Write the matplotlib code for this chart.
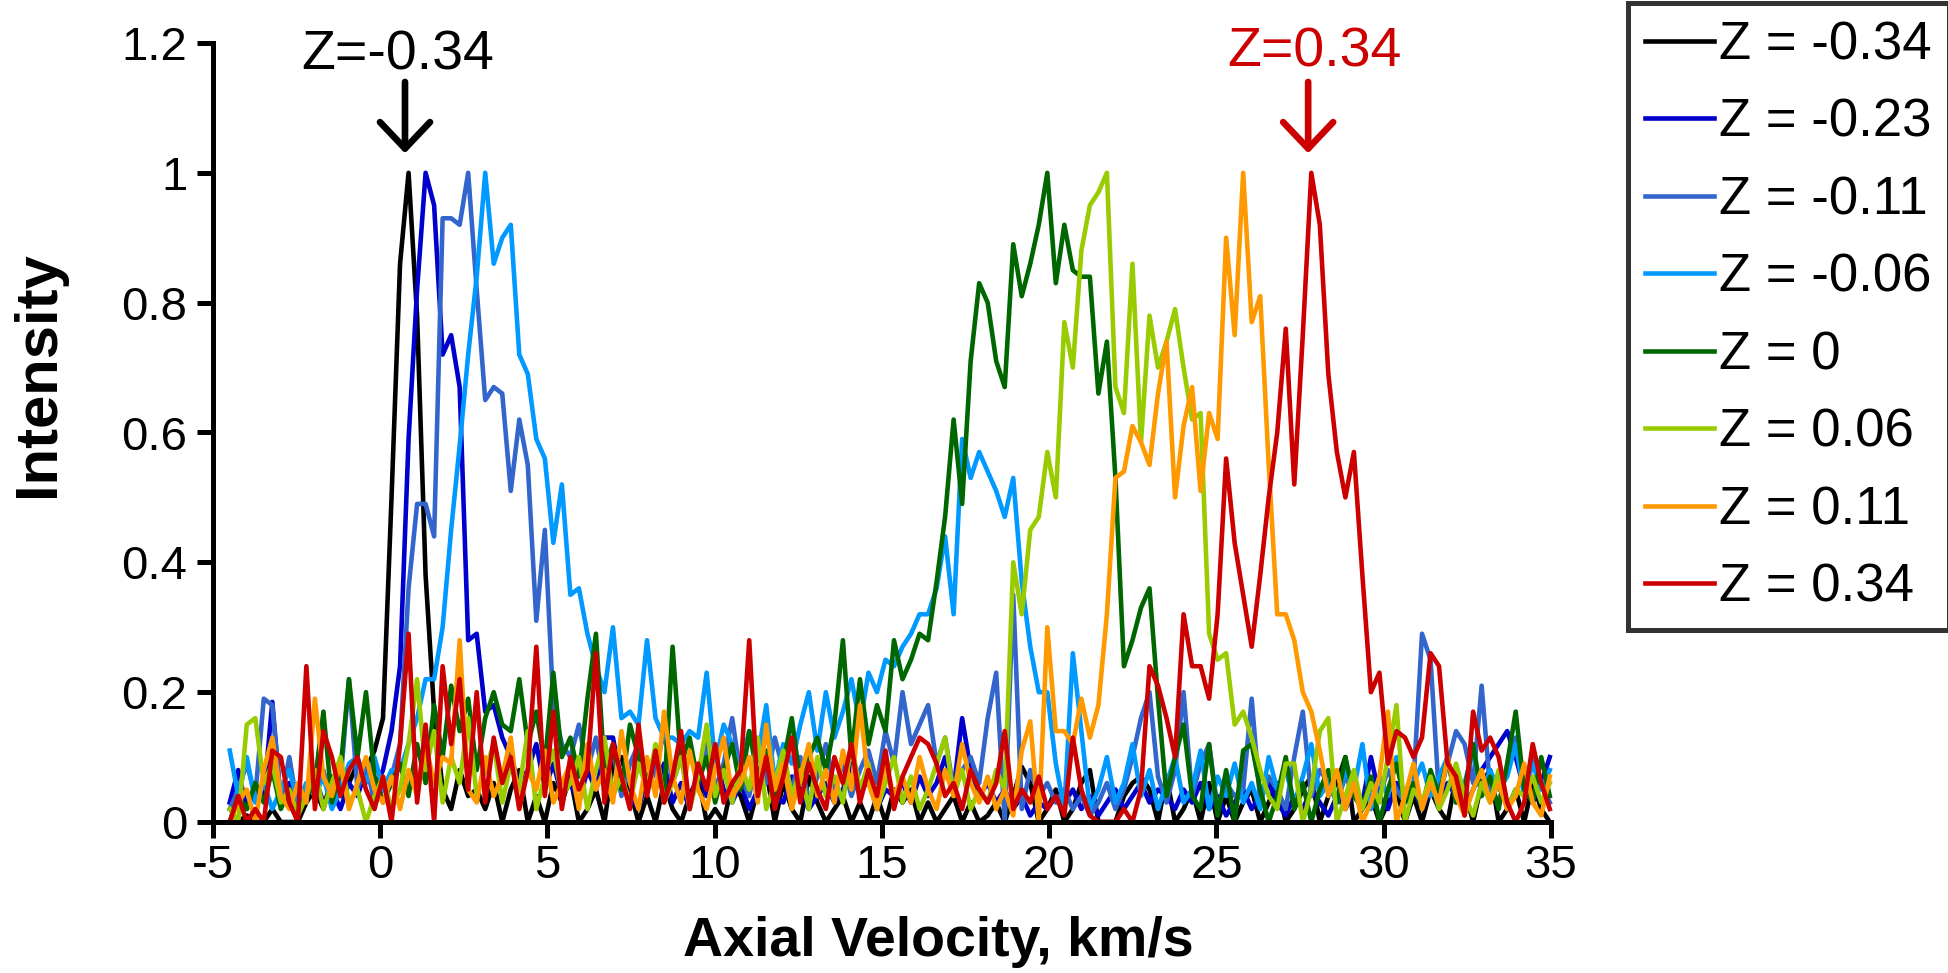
import numpy as np
import matplotlib
matplotlib.use("Agg")
import matplotlib.pyplot as plt

plt.rcParams['font.family'] = ['Liberation Sans', 'DejaVu Sans']

# velocity sampling grid (km/s): start and step of the spectra
VEL_START = -4.50
VEL_STEP = 0.2546

labels = ["Z = -0.34", "Z = -0.23", "Z = -0.11", "Z = -0.06",
          "Z = 0", "Z = 0.06", "Z = 0.11", "Z = 0.34"]
colors = ["#000000", "#0000CC", "#3366CC", "#0099FF",
          "#006600", "#99CC00", "#FF9900", "#CC0000"]

z_m034 = [
    0, 0, 0.01, 0, 0, 0.02, 0, 0, 0, 0.03,
    0.05, 0.02, 0.07, 0.04, 0.06, 0.09, 0.08, 0.11, 0.16, 0.50,
    0.86, 1.0, 0.78, 0.38, 0.17, 0.05, 0.02, 0.08, 0.04, 0.05,
    0.02, 0.06, 0.0, 0.05, 0.08, 0.0, 0.04, 0.0, 0.06, 0.03,
    0.07, 0.0, 0.02, 0.05, 0.0, 0.09, 0.1, 0.05, 0.0, 0.04,
    0.0, 0.06, 0.02, 0.0, 0.04, 0.07, 0.0, 0.02, 0.0, 0.06,
    0.04, 0.0, 0.05, 0.08, 0.0, 0.06, 0.02, 0.0, 0.07, 0.03,
    0.0, 0.02, 0.04, 0.0, 0.03, 0.0, 0.04, 0.0, 0.05, 0.03,
    0.05, 0.0, 0.03, 0.0, 0.02, 0.04, 0.0, 0.03, 0.0, 0.01,
    0.03, 0.0, 0.04, 0.085, 0.06, 0.0, 0.02, 0.05, 0.0, 0.02,
    0.06, 0.08, 0.0, 0.0, 0.0, 0.04, 0.06, 0.07, 0.05, 0.0,
    0.07, 0.0, 0.02, 0.05, 0.0, 0.06, 0.0, 0.04, 0.0, 0.03,
    0.05, 0.0, 0.03, 0.06, 0.0, 0.02, 0.05, 0.07, 0.0, 0.04,
    0.06, 0.1, 0.0, 0.02, 0.04, 0.0, 0.03, 0.05, 0.0, 0.04,
    0.0, 0.05, 0.02, 0.0, 0.07, 0.05, 0.0, 0.06, 0.08, 0.0,
    0.02, 0.05, 0.0, 0.06, 0.02, 0.0,
]

z_m023 = [
    0.03, 0.08, 0.02, 0.05, 0.04, 0.185, 0.03, 0.06, 0.02, 0.04,
    0.07, 0.03, 0.05, 0.02, 0.06, 0.04, 0.08, 0.05, 0.08, 0.14,
    0.24, 0.59, 0.82, 1.0, 0.95, 0.72, 0.75, 0.67, 0.28, 0.29,
    0.17, 0.18, 0.13, 0.10, 0.06, 0.08, 0.12, 0.05, 0.09, 0.04,
    0.06, 0.03, 0.08, 0.05, 0.13, 0.13, 0.06, 0.04, 0.02, 0.07,
    0.05, 0.09, 0.03, 0.06, 0.02, 0.08, 0.04, 0.1, 0.05, 0.03,
    0.06, 0.02, 0.05, 0.08, 0.04, 0.03, 0.07, 0.05, 0.02, 0.04,
    0.06, 0.03, 0.05, 0.09, 0.04, 0.07, 0.02, 0.05, 0.04, 0.06,
    0.03, 0.07, 0.04, 0.06, 0.1, 0.05, 0.16, 0.08, 0.04, 0.06,
    0.03, 0.05, 0.02, 0.04, 0.01, 0.03, 0.02, 0.04, 0.03, 0.05,
    0.02, 0.04, 0.01, 0.03, 0.05, 0.02, 0.04, 0.06, 0.03, 0.05,
    0.04, 0.02, 0.05, 0.03, 0.06, 0.02, 0.04, 0.01, 0.03, 0.05,
    0.02, 0.04, 0.06, 0.03, 0.01, 0.04, 0.02, 0.05, 0.03, 0.01,
    0.04, 0.02, 0.05, 0.03, 0.1, 0.04, 0.02, 0.06, 0.03, 0.05,
    0.02, 0.05, 0.03, 0.06, 0.04, 0.02, 0.05, 0.08, 0.1, 0.12,
    0.14, 0.1, 0.05, 0.03, 0.06, 0.1,
]

z_m011 = [
    0.02, 0.05, 0.09, 0.04, 0.19, 0.18, 0.03, 0.1, 0.02, 0.06,
    0.04, 0.08, 0.03, 0.06, 0.22, 0.05, 0.09, 0.03, 0.05, 0.07,
    0.12, 0.36, 0.49, 0.49, 0.44, 0.93, 0.93, 0.92, 1.0, 0.82,
    0.65, 0.67, 0.66, 0.51, 0.62, 0.55, 0.31, 0.45, 0.18, 0.12,
    0.10, 0.15, 0.08, 0.13, 0.06, 0.11, 0.04, 0.09, 0.12, 0.05,
    0.08, 0.14, 0.06, 0.1, 0.03, 0.07, 0.12, 0.05, 0.09, 0.16,
    0.07, 0.04, 0.11, 0.06, 0.13, 0.08, 0.05, 0.1, 0.03, 0.07,
    0.12, 0.05, 0.09, 0.04, 0.08, 0.11, 0.06, 0.14, 0.09, 0.2,
    0.12, 0.15, 0.18, 0.09, 0.13, 0.05, 0.08, 0.1, 0.06, 0.16,
    0.23, 0.0, 0.35, 0.02, 0.08, 0.04, 0.06, 0.03, 0.05, 0.02,
    0.04, 0.01, 0.03, 0.06, 0.02, 0.05, 0.1, 0.16, 0.2, 0.07,
    0.03, 0.08, 0.2, 0.04, 0.09, 0.12, 0.02, 0.06, 0.04, 0.05,
    0.19, 0.03, 0.07, 0.05, 0.02, 0.1, 0.17, 0.04, 0.08, 0.06,
    0.03, 0.07, 0.05, 0.02, 0.06, 0.04, 0.08, 0.05, 0.03, 0.06,
    0.29, 0.25, 0.04, 0.09, 0.14, 0.12, 0.06, 0.21, 0.05, 0.03,
    0.08, 0.13, 0.04, 0.1, 0.06, 0.03,
]

z_m006 = [
    0.11, 0.04, 0.1, 0.03, 0.06, 0.02, 0.05, 0.08, 0.03, 0.06,
    0.04, 0.07, 0.02, 0.05, 0.09, 0.1, 0.06, 0.1, 0.05, 0.08,
    0.08, 0.12, 0.16, 0.22, 0.22, 0.30, 0.45, 0.58, 0.72, 0.84,
    1.0, 0.86, 0.90, 0.92, 0.72, 0.69, 0.59, 0.56, 0.43, 0.52,
    0.35, 0.36, 0.29, 0.24, 0.20, 0.30, 0.16, 0.17, 0.15, 0.28,
    0.16, 0.13, 0.13, 0.12, 0.14, 0.13, 0.23, 0.09, 0.15, 0.12,
    0.08, 0.14, 0.1, 0.18, 0.06, 0.12, 0.09, 0.15, 0.2, 0.11,
    0.2, 0.13, 0.17, 0.22, 0.15, 0.23, 0.2, 0.25, 0.24, 0.27,
    0.29, 0.32, 0.32, 0.36, 0.44, 0.32, 0.59, 0.53, 0.57, 0.54,
    0.51, 0.47, 0.53, 0.37, 0.27, 0.2, 0.2, 0.09, 0.02, 0.26,
    0.14, 0.02, 0.05, 0.1, 0.03, 0.06, 0.12, 0.04, 0.08, 0.02,
    0.06, 0.1, 0.03, 0.05, 0.11, 0.02, 0.07, 0.04, 0.09, 0.03,
    0.06, 0.02, 0.1, 0.05, 0.08, 0.03, 0.07, 0.12, 0.04, 0.06,
    0.03, 0.08, 0.05, 0.12, 0.02, 0.07, 0.04, 0.1, 0.03, 0.06,
    0.09, 0.04, 0.07, 0.1, 0.03, 0.06, 0.11, 0.04, 0.08, 0.05,
    0.07, 0.12, 0.04, 0.09, 0.05, 0.08,
]

z_0 = [
    0.0, 0.04, 0.02, 0.06, 0.03, 0.08, 0.02, 0.05, 0.01, 0.04,
    0.06, 0.17, 0.03, 0.08, 0.22, 0.1, 0.2, 0.07, 0.03, 0.06,
    0.09, 0.04, 0.12, 0.06, 0.18, 0.1, 0.21, 0.14, 0.19, 0.08,
    0.16, 0.2, 0.15, 0.14, 0.22, 0.12, 0.17, 0.09, 0.23, 0.1,
    0.13, 0.07, 0.19, 0.29, 0.08, 0.12, 0.05, 0.15, 0.1, 0.06,
    0.11, 0.04, 0.27, 0.09, 0.13, 0.06, 0.1, 0.03, 0.08, 0.12,
    0.05, 0.14, 0.07, 0.11, 0.04, 0.09, 0.16, 0.06, 0.1, 0.13,
    0.08, 0.15, 0.28, 0.1, 0.22, 0.12, 0.18, 0.14, 0.28, 0.22,
    0.25, 0.29, 0.28, 0.37, 0.47, 0.62, 0.49, 0.71, 0.83, 0.80,
    0.71, 0.67, 0.89, 0.81, 0.86, 0.92, 1.0, 0.83, 0.92, 0.85,
    0.84, 0.84, 0.66, 0.74, 0.53, 0.24, 0.28, 0.33, 0.36, 0.19,
    0.04, 0.10, 0.15, 0.04, 0.02, 0.12, 0.01, 0.08, 0.0, 0.11,
    0.12, 0.05, 0.0, 0.04, 0.1, 0.02, 0.06, 0.0, 0.05, 0.08,
    0.03, 0.1, 0.04, 0.02, 0.07, 0.0, 0.05, 0.09, 0.03, 0.06,
    0.02, 0.08, 0.04, 0.1, 0.03, 0.05, 0.12, 0.04, 0.07, 0.02,
    0.09, 0.17, 0.05, 0.03, 0.1, 0.04,
]

z_006 = [
    0.02, 0.0, 0.15, 0.16, 0.06, 0.09, 0.03, 0.05, 0.01, 0.04,
    0.08, 0.02, 0.06, 0.1, 0.03, 0.05, 0.0, 0.04, 0.07, 0.02,
    0.05, 0.12, 0.22, 0.08, 0.14, 0.03, 0.1, 0.06, 0.16, 0.04,
    0.08, 0.12, 0.03, 0.09, 0.05, 0.14, 0.02, 0.07, 0.11, 0.04,
    0.06, 0.1, 0.02, 0.08, 0.13, 0.04, 0.07, 0.03, 0.09, 0.05,
    0.12, 0.03, 0.06, 0.1, 0.02, 0.07, 0.15, 0.04, 0.08, 0.03,
    0.09, 0.05, 0.13, 0.02, 0.06, 0.11, 0.04, 0.08, 0.02, 0.1,
    0.04, 0.07, 0.03, 0.12, 0.05, 0.09, 0.02, 0.06, 0.1, 0.03,
    0.07, 0.02, 0.05, 0.09, 0.13, 0.04, 0.08, 0.02, 0.05, 0.03,
    0.08, 0.05, 0.40, 0.32, 0.45, 0.47, 0.57, 0.50, 0.77, 0.70,
    0.88, 0.95, 0.97, 1.0, 0.67, 0.63, 0.86, 0.585, 0.78, 0.70,
    0.74, 0.79, 0.70, 0.62, 0.63, 0.29, 0.25, 0.26, 0.15, 0.17,
    0.13, 0.08, 0.04, 0.02, 0.09, 0.09, 0.0, 0.05, 0.14, 0.16,
    0.0, 0.04, 0.08, 0.02, 0.06, 0.03, 0.1, 0.18, 0.0, 0.05,
    0.03, 0.07, 0.02, 0.05, 0.09, 0.04, 0.01, 0.06, 0.03, 0.08,
    0.02, 0.05, 0.04, 0.07, 0.03, 0.06,
]

z_011 = [
    0.0, 0.03, 0.05, 0.0, 0.08, 0.13, 0.04, 0.02, 0.06, 0.03,
    0.19, 0.07, 0.04, 0.09, 0.02, 0.06, 0.1, 0.05, 0.03, 0.07,
    0.02, 0.08, 0.04, 0.12, 0.06, 0.1, 0.09, 0.28, 0.05, 0.03,
    0.1, 0.04, 0.07, 0.13, 0.02, 0.08, 0.05, 0.11, 0.03, 0.06,
    0.09, 0.02, 0.12, 0.05, 0.08, 0.03, 0.14, 0.06, 0.02, 0.1,
    0.04, 0.17, 0.07, 0.03, 0.11, 0.05, 0.02, 0.08, 0.13, 0.04,
    0.06, 0.1, 0.03, 0.15, 0.05, 0.09, 0.02, 0.07, 0.12, 0.04,
    0.08, 0.03, 0.11, 0.05, 0.18, 0.06, 0.02, 0.09, 0.04, 0.07,
    0.03, 0.1, 0.05, 0.02, 0.08, 0.04, 0.12, 0.06, 0.03, 0.07,
    0.02, 0.05, 0.01, 0.11, 0.155, 0.0, 0.30, 0.14, 0.14, 0.12,
    0.19, 0.13, 0.18, 0.32, 0.53, 0.54, 0.61, 0.585, 0.55, 0.66,
    0.74, 0.50, 0.61, 0.67, 0.51, 0.63, 0.59, 0.90, 0.75, 1.0,
    0.77, 0.81, 0.55, 0.32, 0.32, 0.28, 0.20, 0.17, 0.11, 0.04,
    0.08, 0.02, 0.06, 0.0, 0.03, 0.07, 0.17, 0.0, 0.04, 0.09,
    0.02, 0.06, 0.03, 0.1, 0.04, 0.01, 0.05, 0.08, 0.03, 0.06,
    0.02, 0.04, 0.09, 0.03, 0.01, 0.07,
]

z_034 = [
    0.0, 0.04, 0.0, 0.02, 0.0, 0.11, 0.1, 0.03, 0.0, 0.24,
    0.02, 0.14, 0.1, 0.04, 0.08, 0.1, 0.05, 0.02, 0.07, 0.0,
    0.12, 0.29, 0.03, 0.15, 0.0, 0.24, 0.12, 0.22, 0.05, 0.2,
    0.03, 0.13, 0.06, 0.1, 0.02, 0.08, 0.27, 0.04, 0.17, 0.02,
    0.1, 0.05, 0.08, 0.26, 0.03, 0.12, 0.07, 0.02, 0.15, 0.04,
    0.11, 0.03, 0.07, 0.14, 0.02, 0.09, 0.05, 0.12, 0.03, 0.06,
    0.08, 0.28, 0.04, 0.1, 0.02, 0.07, 0.13, 0.03, 0.09, 0.05,
    0.02, 0.1, 0.06, 0.12, 0.03, 0.08, 0.04, 0.11, 0.02, 0.07,
    0.1, 0.13, 0.12, 0.09, 0.04, 0.06, 0.02, 0.08, 0.05, 0.03,
    0.06, 0.14, 0.02, 0.05, 0.03, 0.07, 0.02, 0.04, 0.01, 0.13,
    0.05, 0.01, 0.0, 0.0, 0.0, 0.02, 0.0, 0.05, 0.24, 0.21,
    0.16, 0.10, 0.32, 0.24, 0.24, 0.19, 0.32, 0.56, 0.43, 0.35,
    0.27, 0.38, 0.50, 0.60, 0.76, 0.52, 0.75, 1.0, 0.92, 0.69,
    0.57, 0.50, 0.57, 0.38, 0.20, 0.23, 0.09, 0.14, 0.13, 0.10,
    0.13, 0.26, 0.24, 0.09, 0.07, 0.01, 0.17, 0.11, 0.13, 0.10,
    0.03, 0.0, 0.03, 0.12, 0.06, 0.02,
]

series = [z_m034, z_m023, z_m011, z_m006, z_0, z_006, z_011, z_034]

xticks = [-5, 0, 5, 10, 15, 20, 25, 30, 35]
yticks = [0, 0.2, 0.4, 0.6, 0.8, 1.0, 1.2]

W, H = 1949, 973
fig = plt.figure(figsize=(W / 100, H / 100), dpi=100)
ax = fig.add_axes([213 / W, 1 - 822 / H, (1551 - 213) / W, (822 - 43) / H])

for vals, lab, col in zip(series, labels, colors):
    v = np.asarray(vals, dtype=float)
    x = VEL_START + VEL_STEP * np.arange(len(v))
    ax.plot(x, v, color=col, lw=3.3, label=lab, clip_on=False)

ax.set_xlim(-5, 35)
ax.set_ylim(0, 1.2)
ax.set_xticks(xticks)
ax.set_yticks(yticks)
ax.set_xticklabels([f"{t:g}" for t in xticks])
ax.set_yticklabels([f"{t:g}" for t in yticks])
for s in ("top", "right"):
    ax.spines[s].set_visible(False)
for s in ("left", "bottom"):
    ax.spines[s].set_linewidth(3.6)
ax.tick_params(axis="both", direction="out", length=11.5, width=3.6,
               labelsize=34)
ax.tick_params(axis="x", pad=4)
ax.tick_params(axis="y", pad=7)

ax.set_xlabel("Axial Velocity, km/s", fontsize=40, fontweight="bold")
ax.xaxis.set_label_coords((938 - 213) / 1338, (822 - 916) / 779)
ax.set_ylabel("Intensity", fontsize=43, fontweight="bold")
ax.yaxis.set_label_coords((66 - 213) / 1338, (822 - 374) / 779)

# annotations
ax.annotate("", xy=(0.74, 1.03), xytext=(0.74, 1.14),
            arrowprops=dict(arrowstyle="->,head_length=0.95,head_width=0.9",
                            lw=4.8, color="black", shrinkA=0, shrinkB=0,
                            mutation_scale=20), annotation_clip=False)
ax.text(0.52, 1.18, "Z=-0.34", fontsize=40, color="black",
        ha="center", va="center", clip_on=False)
ax.annotate("", xy=(27.74, 1.03), xytext=(27.74, 1.14),
            arrowprops=dict(arrowstyle="->,head_length=0.95,head_width=0.9",
                            lw=4.8, color="#CC0000", shrinkA=0, shrinkB=0,
                            mutation_scale=20), annotation_clip=False)
ax.text(27.92, 1.185, "Z=0.34", fontsize=40, color="#CC0000",
        ha="center", va="center", clip_on=False)

leg = ax.legend(loc="upper left", bbox_to_anchor=(1628 / W, 1 - 3 / H),
                bbox_transform=fig.transFigure, fontsize=38, frameon=True,
                fancybox=False, edgecolor="black", handlelength=1.3,
                handletextpad=0.1, labelspacing=0.52, borderpad=0.33,
                borderaxespad=0)
leg.get_frame().set_linewidth(3.6)
for ln in leg.get_lines():
    ln.set_linewidth(3.3)

fig.savefig("out.png", dpi=100)
